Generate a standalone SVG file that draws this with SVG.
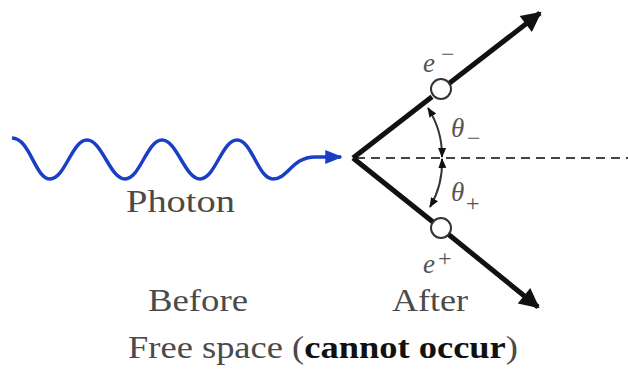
<svg xmlns="http://www.w3.org/2000/svg" width="628" height="373" viewBox="0 0 628 373">
<style>
text{font-family:'Liberation Serif',serif}
.t{fill:#4a4a4a;font-size:31px}
.m{fill:#555;font-style:italic;font-size:27px}
.s{fill:#555;font-size:24px}
.line{stroke:#111;stroke-width:5;fill:none}
.arc{stroke:#333;stroke-width:2;fill:none}
</style>
<defs>
<marker id="ah" viewBox="0 0 10 10" refX="9" refY="5" markerWidth="6" markerHeight="4" markerUnits="strokeWidth" orient="auto"><path d="M0,0 L10,5 L0,10 Z" fill="#111"/></marker>
<marker id="bh" viewBox="0 0 10 10" refX="9" refY="5" markerWidth="6" markerHeight="5" markerUnits="strokeWidth" orient="auto"><path d="M0,1 L10,5 L0,9 Z" fill="#1a3fc4"/></marker>
<marker id="sa" viewBox="0 0 10 10" refX="9" refY="5" markerWidth="5" markerHeight="5" markerUnits="strokeWidth" orient="auto-start-reverse"><path d="M0,1 L10,5 L0,9 Z" fill="#111"/></marker>
</defs>
<g id="connectors">
<path id="photon" d="M12,138 C30,138 35,179 50,179 C65,179 72,140 87,140 C102,140 110,179 125,179 C140,179 147,140 162,140 C177,140 185,179 200,179 C215,179 222,140 237,140 C252,140 258,179 273,179 C288,179 292,157 315,157 L341,157" stroke="#1a3fc4" stroke-width="3.5" fill="none" marker-end="url(#bh)"/>
<path d="M356,158 L628,158" stroke="#444" stroke-width="2" stroke-dasharray="9,6" fill="none"/>
<path class="line" d="M353,158 L432,96.7" />
<path class="line" d="M449,83.5 L540,13" marker-end="url(#ah)"/>
<path class="line" d="M353,158 L433,222" />
<path class="line" d="M448,234 L538,307" marker-end="url(#ah)"/>
<path class="arc" d="M428,108 A89,89 0 0 1 442,157" marker-start="url(#sa)" marker-end="url(#sa)"/>
<path class="arc" d="M442,159 A89,89 0 0 1 430,207" marker-start="url(#sa)" marker-end="url(#sa)"/>
</g>
<g id="electron">
<circle cx="441" cy="89" r="10" fill="#fff" stroke="#333" stroke-width="2"/>
<text class="m" x="423" y="72">e</text>
<text class="s" x="441" y="62">−</text>
</g>
<g id="positron">
<circle cx="441" cy="228" r="10" fill="#fff" stroke="#333" stroke-width="2"/>
<text class="m" x="423" y="273">e</text>
<text class="s" x="438" y="266">+</text>
</g>
<g id="theta-minus">
<text class="m" x="451" y="137">θ</text>
<text class="s" x="467" y="146">−</text>
</g>
<g id="theta-plus">
<text class="m" x="451" y="201">θ</text>
<text class="s" x="466" y="211">+</text>
</g>
<g id="labels">
<text class="t" x="126" y="212" textLength="109" lengthAdjust="spacingAndGlyphs">Photon</text>
<text class="t" x="148" y="311" textLength="100" lengthAdjust="spacingAndGlyphs">Before</text>
<text class="t" x="392" y="311" textLength="76" lengthAdjust="spacingAndGlyphs">After</text>
<text class="t" x="128" y="358" textLength="390" lengthAdjust="spacingAndGlyphs">Free space (<tspan font-weight="bold" fill="#111">cannot occur</tspan>)</text>
</g>
</svg>
